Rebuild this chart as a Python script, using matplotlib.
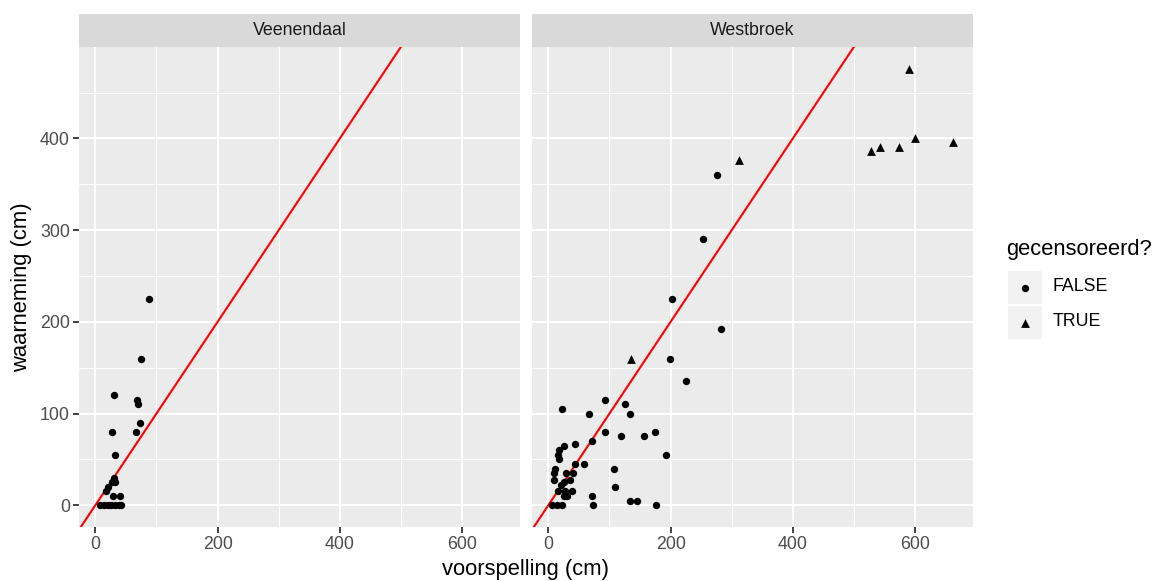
import numpy as np
import matplotlib.pyplot as plt
from matplotlib.patches import Rectangle

plt.rcParams['font.family'] = ['Liberation Sans', 'DejaVu Sans']

# Veenendaal (all not censored)
veen_x = [88, 74, 30, 68, 69, 73, 28, 67, 32, 30, 28, 32, 20, 18, 29, 40, 8, 14, 20, 26, 32, 38, 42]
veen_y = [225, 160, 120, 115, 110, 90, 80, 80, 55, 30, 25, 25, 20, 15, 10, 10, 0, 0, 0, 0, 0, 0, 0]

# Westbroek, not censored
west_x = [225, 23, 93, 67, 126, 133, 92, 119, 156, 174, 193, 72, 44, 26, 18, 18, 15, 44, 59, 11,
          107, 9, 29, 40, 10, 25, 36, 20, 15, 28, 39, 25, 30, 72, 109, 133, 145, 176, 73, 6, 14, 22,
          276, 253, 203, 283, 199]
west_y = [135, 105, 115, 100, 110, 100, 80, 75, 75, 80, 55, 70, 67, 65, 60, 50, 55, 45, 45, 40,
          40, 35, 35, 35, 27, 25, 27, 22, 15, 15, 15, 10, 10, 10, 20, 5, 5, 0, 0, 0, 0, 0,
          360, 290, 225, 192, 160]

# Westbroek, censored
cens_x = [136, 312, 528, 543, 574, 600, 662, 590]
cens_y = [160, 376, 386, 391, 391, 401, 396, 476]

panels = ['Veenendaal', 'Westbroek']

W, H = 1163, 581
fig = plt.figure(figsize=(W / 100, H / 100), dpi=100)

small = 12.8   # tick labels, strip text, legend labels
big = 15.8     # axis titles, legend title


def box(x0, y0, x1, y1):
    # pixel box (top-left origin) -> figure fraction
    return [x0 / W, 1 - y1 / H, (x1 - x0) / W, (y1 - y0) / H]


all_x = veen_x + west_x + cens_x
all_y = veen_y + west_y + cens_y
xpad = 0.05 * (max(all_x) - min(all_x))
ypad = 0.05 * (max(all_y) - min(all_y))
xlim = (min(all_x) - xpad, max(all_x) + xpad)
ylim = (min(all_y) - ypad, max(all_y) + ypad)

lefts = [(79, 520), (532, 973)]
data = [
    [(veen_x, veen_y, 'o')],
    [(west_x, west_y, 'o'), (cens_x, cens_y, '^')],
]

for k, name in enumerate(panels):
    x0, x1 = lefts[k]
    ax = fig.add_axes(box(x0, 47, x1, 527))
    ax.set_facecolor('#EBEBEB')
    ax.set_xlim(*xlim)
    ax.set_ylim(*ylim)
    ax.set_xticks([0, 200, 400, 600])
    ax.set_xticks([100, 300, 500], minor=True)
    ax.set_yticks([0, 100, 200, 300, 400])
    ax.set_yticks([50, 150, 250, 350, 450], minor=True)
    ax.grid(which='major', color='white', linewidth=1.5)
    ax.grid(which='minor', color='white', linewidth=0.75)
    ax.set_axisbelow(True)
    for s in ax.spines.values():
        s.set_visible(False)
    ax.tick_params(which='major', length=4, width=1.3, color='#333333',
                   labelsize=small, labelcolor='#4D4D4D', pad=2.5)
    ax.tick_params(which='minor', length=0)
    if k > 0:
        ax.tick_params(axis='y', which='both', left=False, labelleft=False)

    ax.axline((0, 0), slope=1, color='red', linewidth=1.5, zorder=2)
    for xs, ys, m in data[k]:
        size = 28 if m == 'o' else 40
        ax.scatter(xs, ys, marker=m, s=size, color='black', linewidths=0, zorder=3)

    sax = fig.add_axes(box(x0, 14, x1, 47))
    sax.set_facecolor('#D9D9D9')
    sax.set_xticks([])
    sax.set_yticks([])
    for s in sax.spines.values():
        s.set_visible(False)
    sax.text(0.5, 0.5, name, ha='center', va='center', fontsize=small, color='#1A1A1A',
             transform=sax.transAxes)

fig.text(526 / W, 1 - 569 / H, 'voorspelling (cm)', ha='center', va='center', fontsize=big)
fig.text(22 / W, 1 - 287 / H, 'waarneming (cm)', ha='center', va='center', fontsize=big,
         rotation=90)

# legend
fig.text(1006 / W, 1 - 249 / H, 'gecensoreerd?', ha='left', va='center', fontsize=big)
lax = fig.add_axes(box(1008, 270, 1042, 340))
lax.set_xlim(0, 1)
lax.set_ylim(0, 2)
lax.axis('off')
for i, (m, lab) in enumerate([('o', 'FALSE'), ('^', 'TRUE')]):
    yc = 1.5 - i
    lax.add_patch(Rectangle((0, yc - 0.48), 1, 0.96, facecolor='#F2F2F2', edgecolor='none'))
    lax.scatter([0.5], [yc], marker=m, s=28 if m == 'o' else 40, color='black', linewidths=0)
    fig.text(1053 / W, 1 - (287 + 35 * i) / H, lab, ha='left', va='center', fontsize=small,
             color='#000000')

fig.savefig('out.png', dpi=100)
